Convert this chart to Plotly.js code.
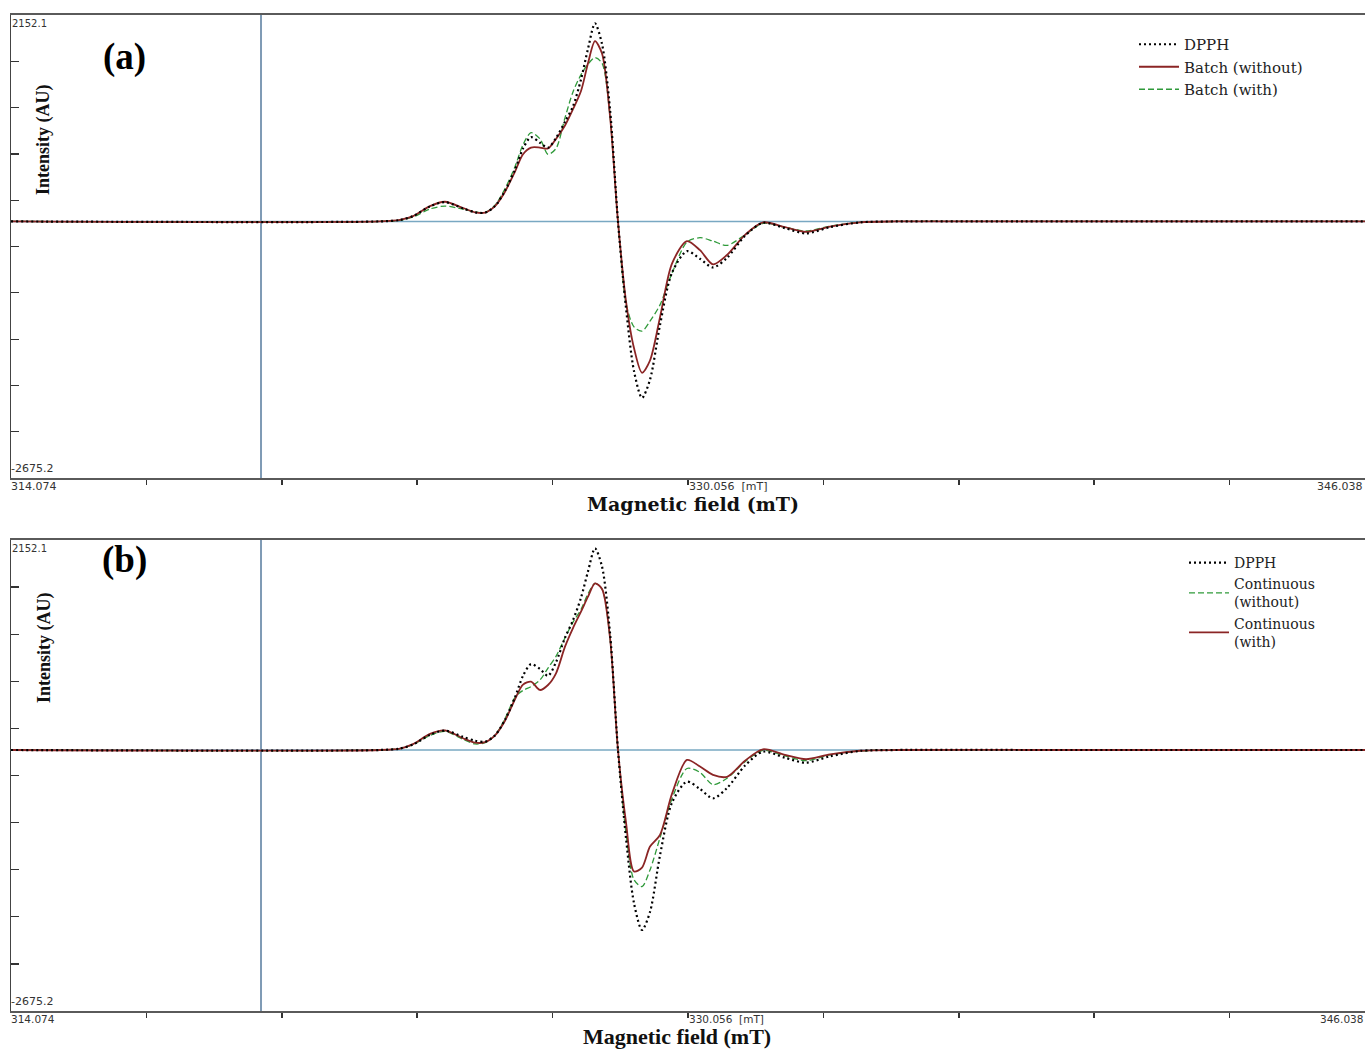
<!DOCTYPE html>
<html>
<head>
<meta charset="utf-8">
<script src="https://cdn.plot.ly/plotly-3.0.1.min.js"></script>
<style>html,body{margin:0;padding:0;background:#fff;}#chart{width:1365px;height:1050px;}</style>
</head>
<body>
<div id="chart"></div>
<script>
// Magnetic field (mT) sample positions
const field = [314.074, 322.785, 323.257, 323.564, 323.965, 324.319, 324.744, 325.028, 325.264, 325.500,
  325.736, 325.972, 326.161, 326.350, 326.562, 326.751, 326.940, 327.152, 327.341, 327.530,
  327.695, 327.860, 328.026, 328.215, 328.403, 328.592, 328.781, 328.970, 329.159, 329.395,
  329.678, 330.032, 330.339, 330.646, 330.977, 331.402, 331.826, 332.346, 332.842, 333.408,
  334.116, 335.000, 338.000, 346.038];

// Panel (a)
const dpphA = [0, 0, 15, 55, 157, 201, 135, 95, 91, 160,
  320, 540, 760, 879, 820, 768, 870, 1040, 1200, 1480,
  1800, 2065, 1850, 1170, 0, -900, -1560, -1840, -1650, -1080,
  -535, -310, -390, -480, -380, -150, -15, -70, -125, -60,
  -10, 0, 0, 0];
const batchWithoutA = [0, 0, 15, 55, 160, 205, 140, 95, 92, 160,
  310, 520, 700, 770, 770, 760, 860, 1000, 1170, 1360,
  1650, 1880, 1750, 1100, 0, -830, -1320, -1578, -1450, -1000,
  -440, -205, -300, -448, -350, -140, -10, -60, -110, -55,
  -10, 0, 0, 0];
const batchWithA = [0, 0, 12, 45, 130, 160, 128, 100, 92, 170,
  340, 570, 800, 925, 860, 700, 760, 1080, 1350, 1530,
  1640, 1707, 1650, 1100, 0, -850, -1100, -1144, -1040, -870,
  -540, -215, -170, -205, -250, -140, -20, -60, -100, -50,
  -10, 0, 0, 0];

// Panel (b)
const dpphB = [0, 0, 15, 55, 155, 198, 135, 95, 85, 150,
  310, 540, 760, 880, 830, 760, 900, 1150, 1330, 1560,
  1830, 2067, 1880, 1200, 0, -900, -1570, -1845, -1660, -1080,
  -540, -325, -400, -495, -390, -160, -17, -80, -130, -65,
  -10, 0, 0, 0];
const contWithoutB = [0, 0, 15, 55, 150, 190, 110, 62, 75, 150,
  320, 540, 610, 650, 717, 840, 960, 1150, 1310, 1440,
  1600, 1708, 1650, 1150, 0, -850, -1330, -1400, -1230, -900,
  -500, -190, -230, -355, -290, -120, -5, -60, -110, -50,
  -10, 0, 0, 0];
const contWithB = [0, 0, 15, 60, 165, 200, 120, 75, 80, 150,
  300, 520, 670, 700, 615, 666, 786, 1059, 1250, 1418,
  1571, 1708, 1650, 1150, 0, -740, -1245, -1205, -990, -870,
  -450, -102, -170, -255, -275, -110, 7, -50, -95, -45,
  -8, 0, 0, 0];

const fieldMin = 314.074, fieldMax = 346.038, fieldMid = 330.056;
const intMax = 2152.1, intMin = -2675.2;
const cursorField = 319.976;

const xTicks = [], yTicks = [];
for (let k = 1; k < 10; k++) {
  xTicks.push(fieldMin + k * (fieldMax - fieldMin) / 10);
  yTicks.push(intMin + k * (intMax - intMin) / 10);
}

const C_BLACK = '#000000', C_RED = '#8b2525', C_GREEN = '#2f9a3a';
const dotDash = '2px,3px', dashDash = '6px,3px';

function tr(y, name, color, dash, width, xa, ya, leg, rank) {
  return {x: field, y: y, type: 'scatter', mode: 'lines', name: name,
    line: {color: color, dash: dash, width: width, shape: 'spline', smoothing: 0.8},
    xaxis: xa, yaxis: ya, legend: leg, legendrank: rank, hoverinfo: 'skip'};
}

const data = [
  tr(batchWithA, 'Batch (with)', C_GREEN, dashDash, 1.3, 'x', 'y', 'legend', 3),
  tr(batchWithoutA, 'Batch (without)', C_RED, 'solid', 1.8, 'x', 'y', 'legend', 2),
  tr(dpphA, 'DPPH', C_BLACK, dotDash, 2.2, 'x', 'y', 'legend', 1),
  tr(contWithoutB, 'Continuous<br>(without)', C_GREEN, dashDash, 1.3, 'x2', 'y2', 'legend2', 2),
  tr(contWithB, 'Continuous<br>(with)', C_RED, 'solid', 1.8, 'x2', 'y2', 'legend2', 3),
  tr(dpphB, 'DPPH', C_BLACK, dotDash, 2.2, 'x2', 'y2', 'legend2', 1)
];

const W = 1365, H = 1050;
const px = v => v / W, py = v => 1 - v / H;

function xAx(anchor, dom) {
  return {domain: dom, range: [fieldMin, fieldMax], anchor: anchor, showgrid: false, zeroline: false,
    showline: true, linecolor: '#5a5a5a', linewidth: 2, mirror: true,
    ticks: 'outside', ticklen: 5, tickwidth: 1.5, tickcolor: '#333', tickmode: 'array', tickvals: xTicks,
    showticklabels: false, fixedrange: true};
}
function yAx(anchor, dom) {
  return {domain: dom, range: [intMin, intMax], anchor: anchor, showgrid: false, zeroline: false,
    showline: true, linecolor: '#444', linewidth: 1.5, mirror: true,
    ticks: 'inside', ticklen: 8, tickwidth: 1.2, tickcolor: '#333', tickmode: 'array', tickvals: yTicks,
    showticklabels: false, fixedrange: true};
}

const smallFont = {family: 'DejaVu Sans', size: 11, color: '#333'};
function ann(text, x, y, xa, ya, font, extra) {
  return Object.assign({text: text, x: x, y: y, xref: 'paper', yref: 'paper', xanchor: xa, yanchor: ya,
    showarrow: false, font: font}, extra || {});
}

const annotations = [];
[[15, 478, 140, 57], [540, 1011, 648, 560]].forEach((p, i) => {
  const [top, bot, intY, labY] = p;
  const lf = {family: 'DejaVu Sans', size: i === 0 ? 11 : 10.5, color: '#333'};
  annotations.push(ann(String(intMax), px(10), py(top + 1), 'left', 'top', {family: 'DejaVu Sans', size: 10, color: '#333'}));
  annotations.push(ann(String(intMin), px(9), py(bot - 1), 'left', 'bottom', smallFont));
  annotations.push(ann(fieldMin.toFixed(3), px(9), py(bot), 'left', 'top', lf));
  annotations.push(ann(fieldMid.toFixed(3) + '  [mT]', px(687), py(bot), 'left', 'top', lf));
  annotations.push(ann(fieldMax.toFixed(3), px(1365), py(bot), 'right', 'top', lf));
  if (i === 0) {
    annotations.push(ann('<b>Magnetic field (mT)</b>', px(693), py(504), 'center', 'middle',
      {family: 'DejaVu Serif', size: 19, color: '#111'}));
  } else {
    annotations.push(ann('<b>Magnetic field (mT)</b>', px(677), py(1050), 'center', 'bottom',
      {family: 'Liberation Serif', size: 22, color: '#111'}, {borderpad: 0}));
  }
  annotations.push(ann('<b>Intensity (AU)</b>', px(44), py(intY), 'center', 'middle',
    {family: 'Liberation Serif', size: 18, color: '#111'}, {textangle: -90}));
  annotations.push(ann('<b>' + (i === 0 ? '(a)' : '(b)') + '</b>', px(124), py(labY), 'center', 'middle',
    {family: 'Liberation Serif', size: 37, color: '#000'}));
});

const blue = '#7f9bb5', zeroBlue = '#79a8c2';
const shapes = [
  {type: 'line', xref: 'x domain', yref: 'y', x0: 0, x1: 1, y0: 0, y1: 0,
    line: {color: zeroBlue, width: 1.5}, layer: 'below'},
  {type: 'line', xref: 'x2 domain', yref: 'y2', x0: 0, x1: 1, y0: 0, y1: 0,
    line: {color: zeroBlue, width: 1.5}, layer: 'below'},
  {type: 'line', xref: 'x', yref: 'y domain', x0: cursorField, x1: cursorField, y0: 0, y1: 1,
    line: {color: blue, width: 2}, layer: 'below'},
  {type: 'line', xref: 'x2', yref: 'y2 domain', x0: cursorField, x1: cursorField, y0: 0, y1: 1,
    line: {color: blue, width: 2}, layer: 'below'}
];

const legFont = {family: 'DejaVu Serif', size: 15, color: '#222'};
const legFont2 = {family: 'DejaVu Serif', size: 14, color: '#222'};
const layout = {
  width: W, height: H, margin: {l: 0, r: 0, t: 0, b: 0},
  paper_bgcolor: '#fff', plot_bgcolor: '#fff', showlegend: true,
  xaxis: xAx('y', [px(11), 1]),
  yaxis: yAx('x', [py(478), py(15)]),
  xaxis2: xAx('y2', [px(11), 1]),
  yaxis2: yAx('x2', [py(1011), py(540)]),
  legend: {x: px(1134), y: py(28), xanchor: 'left', yanchor: 'top', font: legFont,
    bgcolor: 'rgba(0,0,0,0)', borderwidth: 0, tracegroupgap: 0, itemwidth: 40, traceorder: 'normal'},
  legend2: {x: px(1184), y: py(547), xanchor: 'left', yanchor: 'top', font: legFont2,
    bgcolor: 'rgba(0,0,0,0)', borderwidth: 0, tracegroupgap: 0, itemwidth: 40, traceorder: 'normal'},
  annotations: annotations,
  shapes: shapes
};

Plotly.newPlot('chart', data, layout, {staticPlot: true, displayModeBar: false});
</script>
</body>
</html>
